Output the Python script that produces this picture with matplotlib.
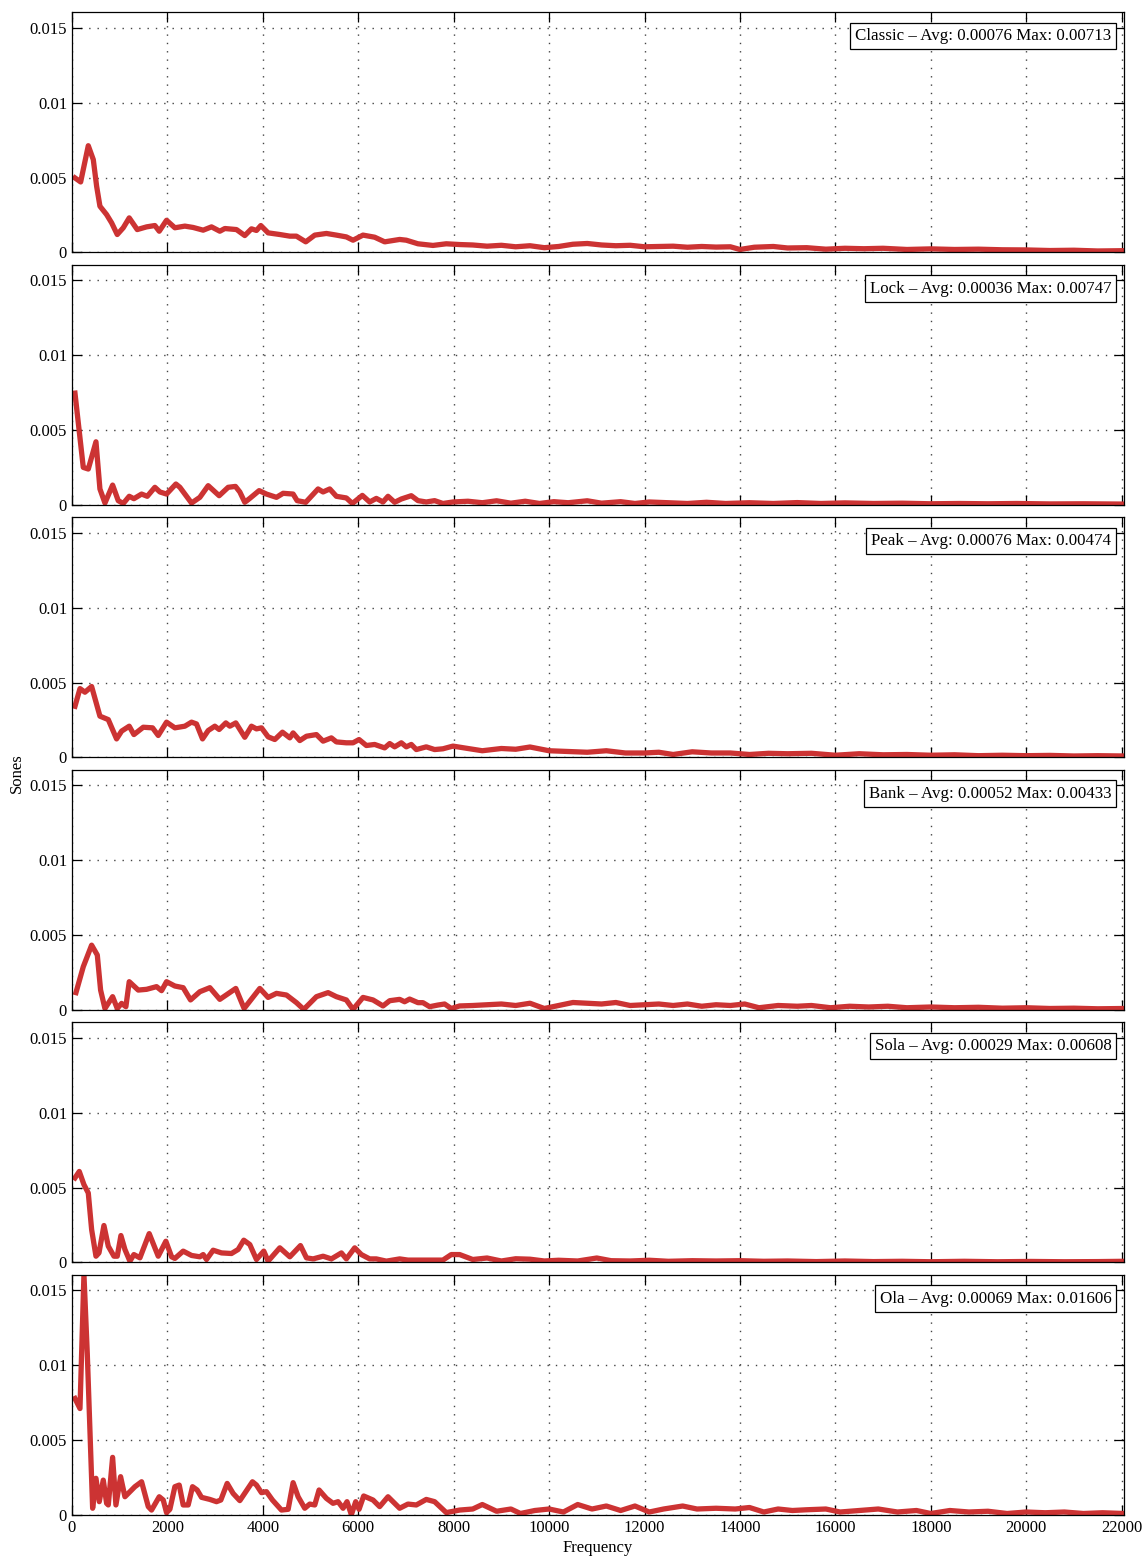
import numpy as np
from matplotlib import pyplot as plt

names = ['Classic', 'Lock', 'Peak', 'Bank', 'Sola', 'Ola']
avg_vals = [0.00076, 0.00036, 0.00076, 0.00052, 0.00029, 0.00069]
max_vals = [0.00713, 0.00747, 0.00474, 0.00433, 0.00608, 0.01606]

classic_f = [63, 182, 342, 447, 517, 586, 726, 831, 949, 1075, 1200, 1368, 1564, 1738, 1829, 1982,
             2157, 2366, 2540, 2750, 2925, 3099, 3204, 3448, 3622, 3762, 3867, 3958, 4111, 4356, 4566,
             4705, 4900, 5089, 5333, 5542, 5751, 5891, 6100, 6344, 6554, 6868, 7007, 7252, 7566, 7845,
             8125, 8400, 8700, 9000, 9300, 9600, 9900, 10200, 10500, 10800, 11100, 11400, 11700, 12000,
             12300, 12600, 12900, 13200, 13500, 13800, 14000, 14300, 14700, 15000, 15400, 15800, 16200,
             16600, 17000, 17500, 18000, 18500, 19000, 19500, 20000, 20500, 21000, 21500, 22050]
classic_v = [0.00498, 0.00471, 0.00713, 0.0062, 0.00442, 0.00309, 0.00253, 0.00198, 0.0012, 0.00165,
             0.00231, 0.00153, 0.00171, 0.0018, 0.00142, 0.00215, 0.00165, 0.00176, 0.00167, 0.00149,
             0.00171, 0.00142, 0.0016, 0.00153, 0.00113, 0.00158, 0.00147, 0.0018, 0.00131, 0.0012,
             0.00109, 0.00109, 0.00071, 0.00116, 0.00127, 0.00116, 0.00104, 0.00082, 0.00116, 0.00102,
             0.00071, 0.00087, 0.00082, 0.00058, 0.00047, 0.00058, 0.00053, 0.0005, 0.00042, 0.00048,
             0.00038, 0.00045, 0.00032, 0.0004, 0.00055, 0.0006, 0.0005, 0.00045, 0.00048, 0.00038,
             0.0004, 0.00042, 0.00035, 0.0004, 0.00036, 0.00038, 0.0002, 0.00035, 0.0004, 0.0003,
             0.00032, 0.00022, 0.00028, 0.00025, 0.00028, 0.0002, 0.00024, 0.0002, 0.00022, 0.00018,
             0.00017, 0.00013, 0.00015, 0.0001, 0.00012]

lock_f = [63, 237, 342, 503, 586, 691, 852, 970, 1075, 1200, 1298, 1459, 1578, 1738, 1843, 1982, 2178,
          2262, 2506, 2680, 2855, 3085, 3274, 3427, 3518, 3622, 3727, 3923, 4076, 4286, 4426, 4635, 4719,
          4900, 5158, 5263, 5403, 5542, 5751, 5877, 6086, 6240, 6379, 6519, 6624, 6763, 6903, 7112, 7252,
          7426, 7601, 7775, 7985, 8300, 8600, 8900, 9200, 9500, 9800, 10100, 10400, 10800, 11100, 11500,
          11800, 12100, 12500, 12900, 13300, 13700, 14200, 14700, 15200, 15700, 16200, 16800, 17400,
          18000, 18600, 19200, 19800, 20500, 21200, 22050]
lock_v = [0.00747, 0.00251, 0.0024, 0.00422, 0.00107, 0.00013, 0.00133, 0.00029, 0.0001, 0.00058,
          0.00042, 0.00073, 0.00058, 0.00118, 0.00087, 0.00073, 0.0014, 0.00118, 0.00013, 0.00051,
          0.00129, 0.00062, 0.00118, 0.00124, 0.00087, 0.00018, 0.00044, 0.00096, 0.00073, 0.00051,
          0.00078, 0.00073, 0.00029, 0.00018, 0.00107, 0.00087, 0.00107, 0.00058, 0.00047, 0.0001,
          0.00064, 0.0002, 0.00044, 0.0002, 0.00058, 0.00018, 0.0004, 0.00062, 0.00029, 0.0002, 0.00029,
          0.0001, 0.0002, 0.00025, 0.00015, 0.00028, 0.00012, 0.00025, 0.0001, 0.00022, 0.00015, 0.00028,
          0.00012, 0.00022, 0.0001, 0.0002, 0.00015, 0.0001, 0.00018, 0.0001, 0.00015, 0.0001, 0.00016,
          0.0001, 0.00014, 0.0001, 0.00012, 0.00008, 0.0001, 0.00008, 0.0001, 0.00007, 0.00008, 0.00006]

peak_f = [63, 168, 272, 412, 586, 761, 935, 1040, 1200, 1298, 1494, 1689, 1808, 1982, 2157, 2366, 2506,
          2610, 2736, 2855, 2994, 3085, 3225, 3309, 3434, 3622, 3762, 3867, 3972, 4111, 4251, 4412, 4566,
          4635, 4775, 4915, 5124, 5263, 5437, 5542, 5751, 5891, 6017, 6170, 6344, 6554, 6659, 6763, 6903,
          7007, 7112, 7217, 7426, 7601, 7775, 7985, 8300, 8600, 9000, 9300, 9600, 10000, 10400, 10800,
          11200, 11600, 12000, 12300, 12600, 13000, 13400, 13800, 14200, 14600, 15000, 15500, 16000,
          16500, 17000, 17500, 18000, 18500, 19000, 19500, 20000, 20500, 21000, 21500, 22050]
peak_v = [0.00342, 0.0046, 0.00436, 0.00474, 0.00276, 0.00253, 0.00124, 0.00176, 0.00209, 0.00153,
          0.00202, 0.00198, 0.00147, 0.00236, 0.00198, 0.00209, 0.00236, 0.00224, 0.00124, 0.0018,
          0.00209, 0.00187, 0.00231, 0.00209, 0.00231, 0.00135, 0.00209, 0.00191, 0.00198, 0.00138,
          0.0012, 0.00169, 0.00131, 0.00164, 0.00113, 0.00142, 0.00153, 0.00109, 0.00131, 0.00104,
          0.00098, 0.00098, 0.0012, 0.0008, 0.00087, 0.00064, 0.00093, 0.00071, 0.00098, 0.00071,
          0.00087, 0.00053, 0.00071, 0.00053, 0.00058, 0.00076, 0.0006, 0.00045, 0.0006, 0.00055, 0.0007,
          0.00045, 0.0004, 0.00035, 0.00045, 0.0003, 0.0003, 0.00035, 0.0002, 0.00038, 0.0003, 0.0003,
          0.0002, 0.00028, 0.00025, 0.00028, 0.00015, 0.00025, 0.00018, 0.0002, 0.00015, 0.00018,
          0.00012, 0.00015, 0.00012, 0.00014, 0.0001, 0.00012, 0.0001]

bank_f = [84, 237, 412, 531, 600, 691, 852, 949, 1040, 1130, 1200, 1389, 1564, 1773, 1878, 1982, 2157,
          2331, 2485, 2680, 2890, 3099, 3434, 3608, 3937, 4111, 4286, 4496, 4705, 4858, 5124, 5368, 5542,
          5751, 5891, 6100, 6310, 6519, 6659, 6868, 6972, 7077, 7252, 7356, 7496, 7670, 7810, 7950, 8125,
          8400, 8700, 9000, 9300, 9600, 9900, 10200, 10500, 10800, 11100, 11400, 11700, 12000, 12300,
          12600, 12900, 13200, 13500, 13800, 14100, 14400, 14800, 15200, 15500, 15900, 16300, 16700,
          17100, 17500, 18000, 18500, 19000, 19500, 20000, 20500, 21000, 21500, 22050]
bank_v = [0.00116, 0.00289, 0.00433, 0.00367, 0.00133, 0.0001, 0.00089, 0.0001, 0.00044, 0.00022,
          0.00189, 0.00133, 0.00138, 0.00156, 0.00129, 0.00189, 0.0016, 0.00149, 0.00067, 0.00122,
          0.00149, 0.00071, 0.00144, 0.0001, 0.00144, 0.00084, 0.00111, 0.001, 0.00049, 0.00004, 0.00089,
          0.00116, 0.00089, 0.00067, 0.00004, 0.00084, 0.00067, 0.00027, 0.00062, 0.00071, 0.00055,
          0.00073, 0.00049, 0.00049, 0.00022, 0.00033, 0.0004, 0.0001, 0.00027, 0.0003, 0.00035, 0.0004,
          0.0003, 0.00045, 0.0001, 0.0003, 0.0005, 0.00045, 0.0004, 0.0005, 0.0003, 0.00035, 0.0004,
          0.0003, 0.0004, 0.00025, 0.00035, 0.0003, 0.0004, 0.00015, 0.0003, 0.00025, 0.0003, 0.00015,
          0.00025, 0.0002, 0.00025, 0.00015, 0.0002, 0.00015, 0.00018, 0.00012, 0.00015, 0.0001, 0.00012,
          0.00008, 0.0001]

sola_f = [63, 153, 251, 342, 412, 503, 566, 670, 761, 880, 949, 1026, 1110, 1214, 1298, 1424, 1619, 1808,
          1968, 2088, 2157, 2331, 2506, 2680, 2750, 2820, 2959, 3134, 3343, 3483, 3601, 3727, 3867, 4020,
          4111, 4356, 4566, 4789, 4915, 5054, 5263, 5437, 5647, 5751, 5926, 6065, 6240, 6379, 6589, 6868,
          7042, 7286, 7496, 7775, 7950, 8125, 8400, 8700, 9000, 9300, 9600, 9900, 10200, 10600, 11000,
          11300, 11700, 12100, 12500, 13000, 13500, 14000, 14500, 15000, 15600, 16200, 16800, 17400,
          18000, 18700, 19400, 20100, 20800, 21500, 22050]
sola_v = [0.00565, 0.00608, 0.0052, 0.00464, 0.0022, 0.00042, 0.00064, 0.00247, 0.00109, 0.00042,
          0.00042, 0.0018, 0.00087, 0.00009, 0.00053, 0.00031, 0.00193, 0.00042, 0.00142, 0.00038,
          0.00027, 0.00076, 0.00047, 0.00038, 0.00053, 0.0002, 0.00082, 0.00064, 0.0006, 0.00087,
          0.00149, 0.0012, 0.0002, 0.00076, 0.00009, 0.00098, 0.00038, 0.00113, 0.00031, 0.00024,
          0.00042, 0.00024, 0.00064, 0.00024, 0.00098, 0.00053, 0.00024, 0.00024, 0.00009, 0.00024,
          0.00016, 0.00016, 0.00016, 0.00016, 0.00053, 0.00053, 0.0002, 0.0003, 0.0001, 0.00025, 0.00022,
          0.0001, 0.00015, 0.0001, 0.0003, 0.00012, 0.0001, 0.00015, 0.00008, 0.00012, 0.0001, 0.00012,
          0.00008, 0.0001, 0.00006, 0.0001, 0.00006, 0.00008, 0.00005, 0.00008, 0.00005, 0.00007,
          0.00005, 0.00006, 0.00008]

ola_f = [63, 168, 251, 321, 433, 503, 572, 656, 726, 761, 852, 921, 1019, 1110, 1319, 1459, 1599, 1668,
         1829, 1913, 1982, 2052, 2157, 2248, 2331, 2436, 2527, 2624, 2715, 2890, 3029, 3120, 3253, 3378,
         3518, 3783, 3867, 3972, 4076, 4202, 4391, 4531, 4635, 4740, 4879, 4984, 5089, 5179, 5333, 5472,
         5577, 5682, 5765, 5856, 5947, 6017, 6114, 6310, 6449, 6624, 6868, 7042, 7217, 7426, 7601, 7845,
         8125, 8400, 8600, 8900, 9200, 9400, 9700, 10000, 10300, 10600, 10900, 11200, 11500, 11800,
         12100, 12400, 12800, 13100, 13500, 13900, 14200, 14500, 14800, 15100, 15400, 15800, 16100,
         16500, 16900, 17300, 17700, 18000, 18400, 18800, 19200, 19600, 20000, 20400, 20800, 21200,
         21600, 22050]
ola_v = [0.00778, 0.00711, 0.01606, 0.01078, 0.00045, 0.00245, 0.00089, 0.00233, 0.00078, 0.00067,
         0.00385, 0.00067, 0.00256, 0.00122, 0.00189, 0.00222, 0.00056, 0.00033, 0.00122, 0.001, 0.00016,
         0.00038, 0.00189, 0.002, 0.00067, 0.00067, 0.00189, 0.00167, 0.00118, 0.00104, 0.00089, 0.001,
         0.00211, 0.00144, 0.00096, 0.00222, 0.002, 0.00149, 0.00156, 0.001, 0.00033, 0.00038, 0.00216,
         0.00122, 0.00045, 0.00073, 0.00067, 0.00167, 0.00111, 0.00078, 0.00089, 0.00045, 0.00089,
         0.00002, 0.00089, 0.00038, 0.00127, 0.001, 0.00056, 0.00122, 0.00045, 0.00073, 0.00067, 0.00104,
         0.00089, 0.00016, 0.00033, 0.0004, 0.0007, 0.00025, 0.0004, 0.0001, 0.0003, 0.0004, 0.0002,
         0.0007, 0.0004, 0.0006, 0.0003, 0.0006, 0.0002, 0.0004, 0.0006, 0.0004, 0.00045, 0.0004, 0.0005,
         0.0002, 0.0004, 0.0003, 0.00035, 0.0004, 0.0002, 0.0003, 0.0004, 0.0002, 0.0003, 0.0001, 0.0003,
         0.0002, 0.00025, 0.0001, 0.0002, 0.00015, 0.0002, 0.0001, 0.00015, 0.0001]

freqs = [classic_f, lock_f, peak_f, bank_f, sola_f, ola_f]
sones = [classic_v, lock_v, peak_v, bank_v, sola_v, ola_v]

x_ticks = np.arange(0, 22001, 2000)
y_ticks = [0, 0.005, 0.01, 0.015]
y_labels = ['0', '0.005', '0.01', '0.015']

plt.rcParams['font.family'] = ['Liberation Serif', 'DejaVu Serif']
plt.rcParams['font.size'] = 12

fig, axes = plt.subplots(6, 1, figsize=(11.46, 15.58), dpi=100, sharex=True)
fig.subplots_adjust(left=0.0628, right=0.9808, top=0.9923, bottom=0.0276, hspace=0.05)

y_top = max(max_vals)
for i, ax in enumerate(axes):
    ax.plot(freqs[i], sones[i], color='#cc3333', lw=3.8, solid_joinstyle='round')
    ax.set_xlim(0, 22050)
    ax.set_ylim(0, y_top)
    ax.set_xticks(x_ticks)
    ax.set_yticks(y_ticks)
    ax.set_yticklabels(y_labels)
    ax.grid(True, ls=(0, (1, 5)), lw=1.0, color='#444444')
    ax.tick_params(direction='in', top=True, right=True, length=7, width=0.9)
    for s in ax.spines.values():
        s.set_linewidth(0.9)
    ax.text(0.988, 0.9, '%s \u2013 Avg: %.5f Max: %.5f' % (names[i], avg_vals[i], max_vals[i]),
            transform=ax.transAxes, ha='right', va='center', fontsize=12.2,
            bbox=dict(boxstyle='square,pad=0.3', fc='white', ec='black', lw=0.9))

axes[-1].set_xlabel('Frequency', labelpad=3)
fig.text(0.015, 0.504, 'Sones', rotation=90, ha='center', va='center', fontsize=12)

plt.savefig('out.png', dpi=100)
